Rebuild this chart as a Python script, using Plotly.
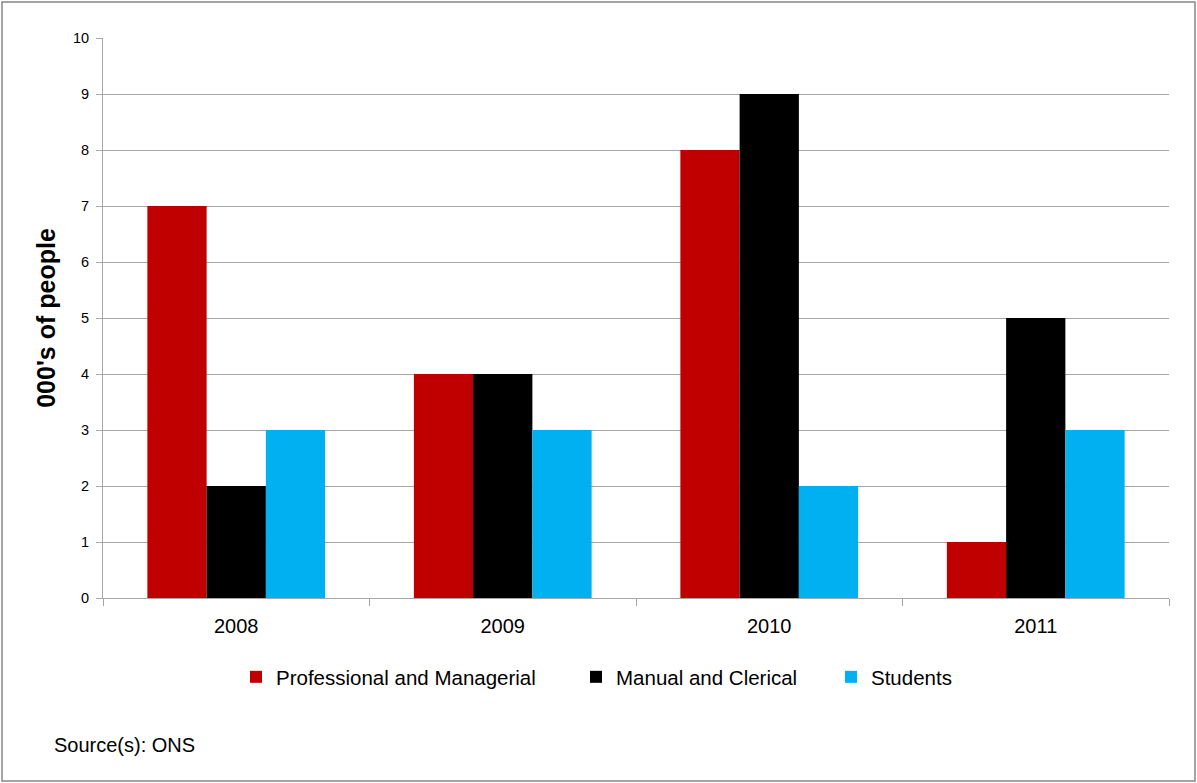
import plotly.graph_objects as go

years = ["2008", "2009", "2010", "2011"]
professional = [7, 4, 8, 1]
manual = [2, 4, 9, 5]
students = [3, 3, 2, 3]

series_names = ["Professional and Managerial", "Manual and Clerical", "Students"]
series_values = [professional, manual, students]
series_colors = ["#c00000", "#000000", "#00b0f0"]
legend_ids = ["legend", "legend2", "legend3"]

W, H = 1197, 783
L, R, T, B = 103, 28, 38, 185
PW, PH = W - L - R, H - T - B


def px_x(px):
    return (px - L) / PW


def px_y(py):
    return (H - B - py) / PH


FONT = "Liberation Sans"
GRID = "#a6a6a6"

fig = go.Figure()
for name, vals, col, lg in zip(series_names, series_values, series_colors, legend_ids):
    fig.add_trace(go.Bar(x=years, y=vals, name=name, marker=dict(color=col, line=dict(width=0)),
                         legend=lg))

# each legend entry sits in its own box so the spacing between entries can be set freely
legend_lefts = [250, 590, 845]
legend_cfg = {}
for lg, left in zip(legend_ids, legend_lefts):
    legend_cfg[lg] = dict(
        x=px_x(left - 14), y=px_y(677), xanchor="left", yanchor="middle",
        orientation="h", bgcolor="rgba(0,0,0,0)", borderwidth=0,
        font=dict(family=FONT, size=20.5, color="#000000"),
        itemwidth=30, tracegroupgap=0,
    )

fig.update_layout(
    width=W, height=H,
    margin=dict(l=L, r=R, t=T, b=B, autoexpand=False),
    paper_bgcolor="white", plot_bgcolor="white",
    barmode="group", bargap=0.333, bargroupgap=0,
    showlegend=True,
    font=dict(family=FONT, color="#000000"),
    xaxis=dict(
        type="category", showgrid=False, showline=True, linecolor=GRID, linewidth=1,
        ticks="outside", tickson="boundaries", ticklen=7, tickcolor=GRID,
        tickfont=dict(family=FONT, size=20, color="#000000"),
        ticklabelstandoff=10,
    ),
    yaxis=dict(
        range=[0, 10], dtick=1, showgrid=True, gridcolor=GRID, gridwidth=1,
        showline=True, linecolor=GRID, linewidth=1,
        ticks="outside", ticklen=6, tickcolor=GRID,
        tickfont=dict(family=FONT, size=14.5, color="#000000"),
        ticklabelstandoff=4, zeroline=False,
        title=dict(text="<b>000's of people</b>", font=dict(family=FONT, size=25, color="#000000"),
                   standoff=10),
    ),
    **legend_cfg,
)

fig.add_annotation(
    text="Source(s): ONS", xref="paper", yref="paper",
    x=px_x(52), y=px_y(745), xanchor="left", yanchor="middle", showarrow=False,
    font=dict(family=FONT, size=20, color="#000000"),
)

# outer frame around the whole chart
fig.add_shape(
    type="rect", xref="paper", yref="paper",
    x0=px_x(2), x1=px_x(1195), y0=px_y(781), y1=px_y(2),
    line=dict(color="#868686", width=1.5), fillcolor="rgba(0,0,0,0)", layer="below",
)

fig.write_html("out.html")
